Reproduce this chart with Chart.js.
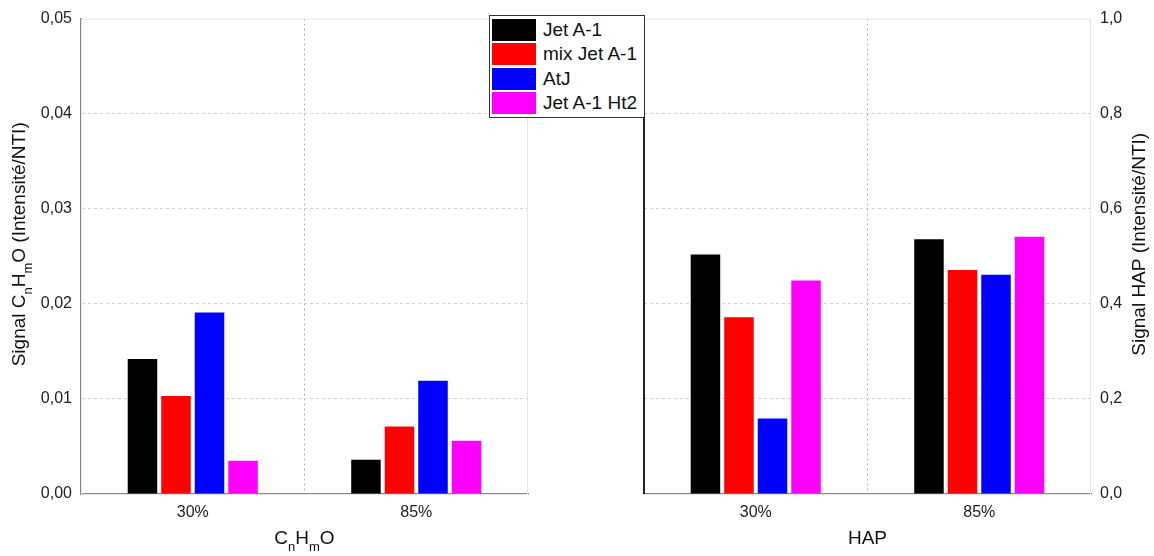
<!DOCTYPE html>
<html>
<head>
<meta charset="utf-8">
<script src="https://cdn.jsdelivr.net/npm/chart.js@4"></script>
<style>
	body { margin: 0; background: #fff; width: 1154px; height: 556px; position: relative; overflow: hidden; font-family: "Liberation Sans", Arial, sans-serif; }
	#leftBox { position: absolute; left: 0; top: 0; width: 560px; height: 556px; }
	#rightBox { position: absolute; left: 560px; top: 0; width: 594px; height: 556px; }
	#legendBox { position: absolute; left: 489px; top: 15px; width: 154px; height: 101px; border: 1px solid #333; background: #fff; z-index: 5; }
	.lgRow { position: absolute; left: 2px; height: 22px; }
	.lgSwatch { position: absolute; left: 0; top: 0; width: 44px; height: 22px; }
	.lgText { position: absolute; left: 51px; top: 0; line-height: 22px; font-size: 19px; color: #111; white-space: nowrap; }
</style>
</head>
<body>
<div id="leftBox"><canvas id="graph_cnhmo" width="560" height="556"></canvas></div>
<div id="rightBox"><canvas id="graph_hap" width="594" height="556"></canvas></div>
<div id="legendBox"></div>
<script>
// catégories (x)
const categories = ["30%", "85%"];
const seriesNames = ["Jet A-1", "mix Jet A-1", "AtJ", "Jet A-1 Ht2"];
const seriesColors = ["#000000", "#ff0000", "#0000ff", "#ff00ff"];

// Signal CnHmO
const cnhmoJetA1 = [0.0142, 0.0036];
const cnhmoMix = [0.0103, 0.0071];
const cnhmoAtJ = [0.0191, 0.0119];
const cnhmoHt2 = [0.0035, 0.0056];

// Signal HAP
const hapJetA1 = [0.504, 0.536];
const hapMix = [0.372, 0.471];
const hapAtJ = [0.159, 0.461];
const hapHt2 = [0.449, 0.541];

const leftTicks = [0, 0.01, 0.02, 0.03, 0.04, 0.05];
const rightTicks = [0, 0.2, 0.4, 0.6, 0.8, 1.0];

const FONT = "'Liberation Sans', Arial, sans-serif";

function makeDatasets(lists) {
	return lists.map(function(values, i) {
		return {
			label: seriesNames[i],
			data: values,
			backgroundColor: seriesColors[i],
			borderWidth: 0,
			categoryPercentage: 0.6,
			barPercentage: 0.88
		};
	});
}

// texte avec indices (C n H m O)
function drawRich(ctx, parts, x, y, rotate) {
	ctx.save();
	ctx.translate(x, y);
	if (rotate) ctx.rotate(-Math.PI / 2);
	ctx.fillStyle = "#111";
	ctx.textBaseline = "middle";
	ctx.textAlign = "left";
	let total = 0;
	parts.forEach(function(p) {
		ctx.font = (p.sub ? "13px " : "19px ") + FONT;
		total += ctx.measureText(p.t).width;
	});
	let cx = -total / 2;
	parts.forEach(function(p) {
		ctx.font = (p.sub ? "13px " : "19px ") + FONT;
		ctx.fillText(p.t, cx, p.sub ? 8 : 0);
		cx += ctx.measureText(p.t).width;
	});
	ctx.restore();
}

// cadre fin gris clair + titres d'axes
const framePlugin = {
	id: "frame",
	beforeDatasetsDraw: function(chart, args, opts) {
		const a = chart.chartArea;
		const ctx = chart.ctx;
		ctx.save();
		ctx.strokeStyle = "#e6e6e6";
		ctx.lineWidth = 1;
		ctx.strokeRect(a.left + 0.5, a.top + 0.5, a.right - a.left - 1, a.bottom - a.top);
		ctx.restore();
	},
	afterDraw: function(chart, args, opts) {
		const a = chart.chartArea;
		const ctx = chart.ctx;
		const midY = (a.top + a.bottom) / 2 - 12;
		if (opts.darkLeft) {
			ctx.save();
			ctx.strokeStyle = "#222";
			ctx.lineWidth = 2;
			ctx.beginPath();
			ctx.moveTo(a.left, a.top);
			ctx.lineTo(a.left, a.bottom);
			ctx.stroke();
			ctx.restore();
		}
		if (opts.yTitle) {
			drawRich(ctx, opts.yTitle, opts.yTitleX, midY, true);
		}
		if (opts.xTitle) {
			drawRich(ctx, opts.xTitle, (a.left + a.right) / 2, 539, false);
		}
	}
};

function xScale() {
	return {
		type: "category",
		offset: true,
		afterFit: function(scale) { scale.height = 62; },
		grid: {
			offset: true,
			drawTicks: false,
			color: function(c) { return c.index === 1 ? "#b0b0b0" : "rgba(0,0,0,0)"; },
			lineWidth: 1
		},
		border: { display: true, color: "#888", width: 1.5, dash: [2, 3] },
		ticks: { color: "#222", font: { family: FONT, size: 16 }, padding: 9 }
	};
}

function yScale(ticks, decimals, position, width, showBorder) {
	return {
		position: position,
		min: ticks[0],
		max: ticks[ticks.length - 1],
		afterFit: function(scale) { scale.width = width; },
		afterBuildTicks: function(scale) { scale.ticks = ticks.map(function(v) { return {value: v}; }); },
		grid: {
			drawTicks: false,
			color: function(c) { return (c.index === 0 || c.index === ticks.length - 1) ? "rgba(0,0,0,0)" : "#d0d0d0"; },
			lineWidth: 1
		},
		border: { display: showBorder, color: "#888", width: 2, dash: [3, 3] },
		ticks: {
			color: "#222",
			font: { family: FONT, size: 16 },
			padding: 9,
			callback: function(v) { return Number(v).toFixed(decimals).replace(".", ","); }
		}
	};
}

function drawCnHmO() {
	let ctx = document.getElementById("graph_cnhmo").getContext("2d");
	new Chart(ctx, {
		type: "bar",
		data: {
			labels: categories,
			datasets: makeDatasets([cnhmoJetA1, cnhmoMix, cnhmoAtJ, cnhmoHt2])
		},
		options: {
			responsive: false,
			animation: false,
			layout: { padding: { left: 0, top: 15, right: 32, bottom: 0 } },
			scales: {
				x: xScale(),
				y: yScale(leftTicks, 2, "left", 81, true)
			},
			plugins: {
				legend: { display: false },
				tooltip: { enabled: false },
				frame: {
					yTitle: [{t: "Signal C"}, {t: "n", sub: true}, {t: "H"}, {t: "m", sub: true}, {t: "O (Intensité/NTI)"}],
					yTitleX: 20,
					xTitle: [{t: "C"}, {t: "n", sub: true}, {t: "H"}, {t: "m", sub: true}, {t: "O"}]
				}
			}
		},
		plugins: [framePlugin]
	});
}

function drawHAP() {
	let ctx = document.getElementById("graph_hap").getContext("2d");
	new Chart(ctx, {
		type: "bar",
		data: {
			labels: categories,
			datasets: makeDatasets([hapJetA1, hapMix, hapAtJ, hapHt2])
		},
		options: {
			responsive: false,
			animation: false,
			layout: { padding: { left: 84, top: 15, right: 0, bottom: 0 } },
			scales: {
				x: xScale(),
				y: yScale(rightTicks, 1, "right", 63, false)
			},
			plugins: {
				legend: { display: false },
				tooltip: { enabled: false },
				frame: {
					darkLeft: true,
					yTitle: [{t: "Signal HAP (Intensité/NTI)"}],
					yTitleX: 580,
					xTitle: [{t: "HAP"}]
				}
			}
		},
		plugins: [framePlugin]
	});
}

function buildLegend() {
	let box = document.getElementById("legendBox");
	let html = "";
	seriesNames.forEach(function(name, i) {
		html += "<div class=\"lgRow\" style=\"top:" + (3 + i * 24.3) + "px\">";
		html += "<div class=\"lgSwatch\" style=\"background:" + seriesColors[i] + "\"></div>";
		html += "<div class=\"lgText\">" + name + "</div></div>";
	});
	box.innerHTML = html;
}

buildLegend();
drawCnHmO();
drawHAP();
</script>
</body>
</html>
